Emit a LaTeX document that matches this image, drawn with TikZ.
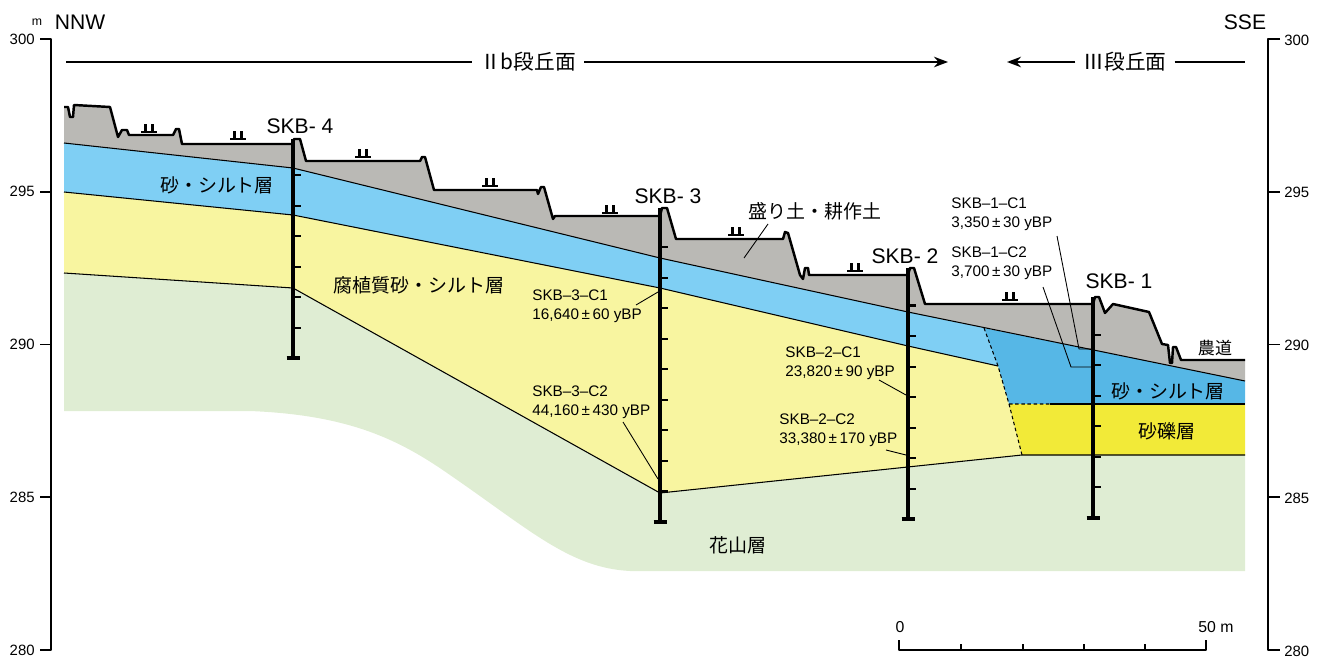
\documentclass[tikz,border=0pt]{standalone}
\usepackage{fontspec}
\setmainfont{Liberation Sans}
\newfontfamily\jp{Noto Sans CJK JP}
\usetikzlibrary{arrows.meta}

\definecolor{fillsoil}{RGB}{186,185,181}
\definecolor{siltlt}{RGB}{127,207,244}
\definecolor{siltdk}{RGB}{86,183,230}
\definecolor{humic}{RGB}{248,245,160}
\definecolor{gravel}{RGB}{242,234,56}
\definecolor{granite}{RGB}{223,237,211}

\tikzset{paddy/.pic={\draw[line width=1.5pt] (-8,0) -- (8,0) (-3.5,0) -- (-3.5,-8) (3.5,0) -- (3.5,-8);}}

\newcommand\surf{(64,107) -- (68,107) -- (70,117) -- (73,117) -- (74,105) -- (110,107) -- (118,137) -- (122,130) -- (127,130) -- (129,135) -- (173,135) -- (176,129) -- (179,129) -- (182,144) -- (293,144) -- (294,139) -- (300,139) -- (306,161) -- (420,161) -- (422,157) -- (425,157) -- (434,190) -- (537,190) -- (538,194) -- (541,187) -- (544,187) -- (553,219) -- (555,216) -- (660,216) -- (662,208) -- (667,208) -- (676,239) -- (783,239) -- (785,232) -- (788,233) -- (800,275) -- (803,279) -- (805,268) -- (808,268) -- (809,275) -- (908,275) -- (910,268) -- (914,268) -- (925,304) -- (1093,304) -- (1095,297) -- (1099,297) -- (1105,313) -- (1113,304) -- (1149,312) -- (1162,344) -- (1168,345) -- (1170,363) -- (1172,363) -- (1173,347) -- (1176,347) -- (1181,360) -- (1245,360)}

\begin{document}
\begin{tikzpicture}[>={Stealth[length=8pt,width=6pt]},x=0.020cm,y=-0.020cm,line join=round,
 ground/.style={line width=1.4pt},
 bed/.style={line width=0.6pt},
 bore/.style={line width=2pt},
 tk/.style={line width=1.2pt},
 axis/.style={line width=1.1pt},
 ldr/.style={line width=0.5pt},
 num/.style={font=\fontsize{8.5}{10}\selectfont,inner sep=0pt},
 hole/.style={font=\fontsize{12}{14}\selectfont,inner sep=0pt},
 smp/.style={font=\fontsize{8.7}{10.8}\selectfont,align=left,anchor=west,inner sep=0pt},
 unit/.style={font=\jp\fontsize{10.8}{12}\selectfont,inner sep=0pt},
 ttl/.style={font=\jp\fontsize{11.8}{13}\selectfont,inner xsep=4.5pt,inner ysep=0pt}]
\useasboundingbox (0,0) rectangle (1325,659);

\fill[granite] (64,273) -- (293,288) -- (660,493) -- (1022,455) -- (1245,455) -- (1245,571) -- (630,571) .. controls (570,568) and (530,530) .. (450,475) .. controls (400,440) and (350,415) .. (250,411) -- (64,411) -- cycle;
\fill[humic] (64,192) -- (293,215) -- (660,288) -- (908,346) -- (998,366) -- (1009,404) -- (1022,455) -- (660,493) -- (293,288) -- (64,273) -- cycle;
\fill[siltlt] (64,143) -- (293,168) -- (660,258) -- (908,312) -- (984,328) -- (998,366) -- (908,346) -- (660,288) -- (293,215) -- (64,192) -- cycle;
\fill[siltdk] (984,328) -- (1245,381) -- (1245,404) -- (1009,404) -- (998,366) -- cycle;
\fill[gravel] (1009,404) -- (1245,404) -- (1245,455) -- (1022,455) -- cycle;
\fill[fillsoil] \surf -- (1245,381) -- (908,312) -- (660,258) -- (293,168) -- (64,143) -- cycle;

\draw[bed] (64,143) -- (293,168) -- (660,258) -- (908,312) -- (1245,381);
\draw[bed] (64,192) -- (293,215) -- (660,288) -- (908,346) -- (998,366);
\draw[bed] (64,273) -- (293,288) -- (660,493) -- (1022,455) -- (1245,455);
\draw[bed] (1050,404) -- (1245,404);
\draw[bed,dash pattern=on 2pt off 1.5pt] (984,328) -- (998,366) -- (1009,404) -- (1022,455) (1009,404) -- (1050,404);
\draw[ground] \surf;

\pic at (149,132) {paddy};
\pic at (238,139) {paddy};
\pic at (363,157) {paddy};
\pic at (490,186) {paddy};
\pic at (610,213) {paddy};
\pic at (736,235) {paddy};
\pic at (855,271) {paddy};
\pic at (1010,300) {paddy};

\draw[bore] (293,139) -- (293,358) (286.5,358) -- (299.5,358);
\foreach \k in {1,...,6} \draw[tk] (293,{144.5+\k*30.55}) -- ++(8,0);
\draw[bore] (660,208) -- (660,522) (653.5,522) -- (666.5,522);
\foreach \k in {1,...,9} \draw[tk] (660,{216.5+\k*30.55}) -- ++(8,0);
\draw[bore] (908,268) -- (908,519) (901.5,519) -- (914.5,519);
\foreach \k in {1,...,7} \draw[tk] (908,{275+\k*30.55}) -- ++(8,0);
\draw[bore] (1093,297) -- (1093,518) (1086.5,518) -- (1099.5,518);
\foreach \k in {1,...,6} \draw[tk] (1093,{304+\k*30.55}) -- ++(8,0);

\node[hole] (h4) at (300,126) {SKB- 4};
\node[hole] (h3) at (668,196) {SKB- 3};
\node[hole] (h2) at (905,256) {SKB- 2};
\node[hole] (h1) at (1119,281) {SKB- 1};

\node[smp] (c31) at (532,306.5) {SKB–3–C1\\16,640\,±\,60 yBP};
\node[smp] (c32) at (532,402) {SKB–3–C2\\44,160\,±\,430 yBP};
\node[smp] (c21) at (785,363) {SKB–2–C1\\23,820\,±\,90 yBP};
\node[smp] (c22) at (779,430) {SKB–2–C2\\33,380\,±\,170 yBP};
\node[smp] (c11) at (951,214) {SKB–1–C1\\3,350\,±\,30 yBP};
\node[smp] (c12) at (951,263) {SKB–1–C2\\3,700\,±\,30 yBP};

\coordinate (p31) at (658,292);
\coordinate (p32) at (658,479);
\coordinate (p21) at (906,395);
\coordinate (p22) at (906,455);
\coordinate (p11) at (1092,349);
\coordinate (p12) at (1092,367);
\draw[ldr] (636,305) -- (p31);
\draw[ldr] (623,422) -- (p32);
\draw[ldr] (879,380) -- (p21);
\draw[ldr] (886,450) -- (p22);
\draw[ldr] (1057,236) -- (1079,349) -- (p11);
\draw[ldr] (1043,287) -- (1071,367) -- (p12);

\node[unit] (fill) at (815,211) {盛り土・耕作土};
\coordinate (pfill) at (744,258);
\draw[ldr] (768,224) -- (pfill);
\node[unit] (silt4) at (217,185) {砂・シルト層};
\node[unit] (humus) at (419,285) {腐植質砂・シルト層};
\node[unit] (silt1) at (1168,391) {砂・シルト層};
\node[unit] (grav) at (1167,431) {砂礫層};
\node[unit] (base) at (738,545) {花山層};
\node[unit,font=\jp\fontsize{9.7}{11}\selectfont] (road) at (1215,348) {農道};

\node[ttl] (t2) at (528,62) {Ⅱb段丘面};
\coordinate (t2l) at (66,62);
\coordinate (t2r) at (948,62);
\draw[axis] (t2l) -- (t2);
\draw[axis,->] (t2) -- (t2r);
\node[ttl] (t3) at (1125,62) {Ⅲ段丘面};
\coordinate (t3l) at (1007,62);
\coordinate (t3r) at (1245,62);
\draw[axis,->] (t3) -- (t3l);
\draw[axis] (t3) -- (t3r);

\node[hole] (nnw) at (80,22) {NNW};
\node[hole] (sse) at (1245,22) {SSE};
\node[num,font=\fontsize{7}{8}\selectfont] (unitm) at (37,22) {m};

\draw[axis] (40,39) -- (51,39) -- (51,650) -- (40,650);
\draw[axis] (1280,39) -- (1268,39) -- (1268,650) -- (1280,650);
\foreach \v in {300,295,...,280} {
  \draw[axis] (40,{39+(300-\v)*30.55}) -- (51,{39+(300-\v)*30.55});
  \draw[axis] (1268,{39+(300-\v)*30.55}) -- (1280,{39+(300-\v)*30.55});
  \node[num,anchor=east] (l\v) at (35,{39+(300-\v)*30.55}) {\v};
  \node[num,anchor=west] (r\v) at (1284,{40+(300-\v)*30.55}) {\v};
}

\draw[axis] (899,640) -- (899,650) -- (1206,650) -- (1206,640);
\foreach \x in {961,1023,1084,1145} \draw[axis] (\x,650) -- (\x,644);
\node[num,font=\fontsize{9}{10}\selectfont] (s0) at (900,627) {0};
\node[num,font=\fontsize{9}{10}\selectfont] (s50) at (1216,627) {50 m};
\end{tikzpicture}
\end{document}
